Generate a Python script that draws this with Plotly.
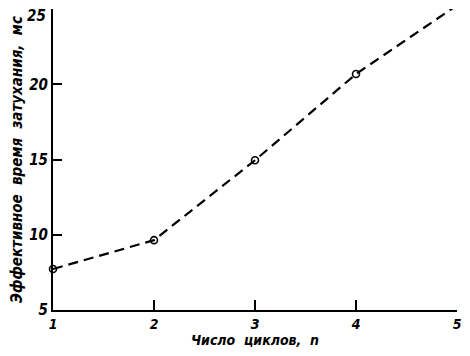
import plotly.graph_objects as go

cycles = [1, 2, 3, 4, 5]
decay_ms = [7.72, 9.64, 14.95, 20.68, 25.25]
marker_cycles = [1, 2, 3, 4]
marker_ms = [7.72, 9.64, 14.95, 20.68]
x_ticks = [1, 2, 3, 4, 5]
y_ticks = [5, 10, 15, 20, 25]

FAM = "DejaVu Sans Condensed, DejaVu Sans"
font = dict(family=FAM, size=15, color="black")

fig = go.Figure()
fig.add_trace(go.Scatter(x=cycles, y=decay_ms, mode="lines",
                         line=dict(color="black", width=2.2, dash="10px,6px"),
                         showlegend=False))
fig.add_trace(go.Scatter(x=marker_cycles, y=marker_ms, mode="markers",
                         marker=dict(symbol="circle-open", size=7, color="black",
                                     line=dict(width=1.6, color="black")),
                         cliponaxis=False, showlegend=False))

y_text = [f"<i><b>{v}</b></i>" for v in y_ticks]
y_text[-1] = ""  # top label drawn as annotation just below the top tick
fig.add_annotation(text=f"<i><b>{y_ticks[-1]}</b></i>", xref="paper", yref="y",
                   x=0, y=y_ticks[-1], xanchor="right", yanchor="middle",
                   xshift=-5, yshift=-7, showarrow=False, font=dict(size=15))

fig.update_layout(
    width=454, height=340,
    margin=dict(l=45, r=5, t=1, b=38),
    paper_bgcolor="white", plot_bgcolor="white",
    font=font,
    xaxis=dict(range=[1, 5], tickvals=x_ticks, ticktext=[f"<i><b>{v}</b></i>" for v in x_ticks],
               tickfont=dict(size=14),
               showline=True, linecolor="black", linewidth=2,
               ticks="inside", ticklen=10, tickwidth=1.5, tickcolor="black",
               ticklabeloverflow="allow",
               showgrid=False, zeroline=False, automargin=False,
               title=dict(text="<i><b>Число  циклов,  n</b></i>", standoff=9,
                          font=dict(size=14))),
    yaxis=dict(range=[5, 25], tickvals=y_ticks, ticktext=y_text,
               showline=True, linecolor="black", linewidth=2,
               ticks="inside", ticklen=9, tickwidth=1.5, tickcolor="black",
               ticklabeloverflow="allow",
               showgrid=False, zeroline=False, automargin=False,
               title=dict(text="<i><b>Эффективное  время  затухания,  мс</b></i>", standoff=4,
                          font=dict(size=15))),
)
fig.write_html("out.html")
